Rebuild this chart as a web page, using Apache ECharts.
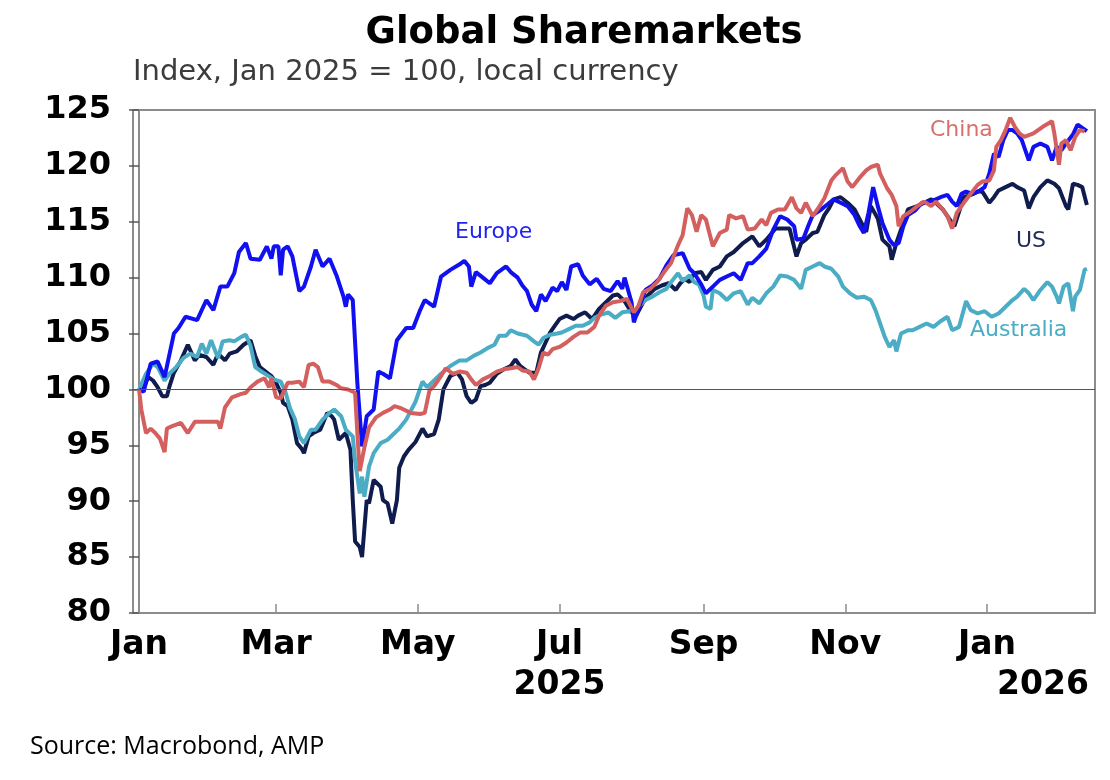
<!DOCTYPE html>
<html>
<head>
<meta charset="utf-8">
<title>Global Sharemarkets</title>
<script src="https://cdn.jsdelivr.net/npm/echarts@6.0.0/dist/echarts.min.js"></script>
<style>
  html, body { margin: 0; padding: 0; background: #fff; }
  #main { width: 1110px; height: 780px; }
</style>
</head>
<body>
<div id="main"></div>
<script>
// day offsets from 1 Jan 2025, index value (Jan 2025 = 100)
var europe = [[0,100],[2,99.8],[5,102.3],[8,102.5],[11,101.1],[15,105],[17,105.5],[20,106.5],[25,106.2],[29,108],[32,107.1],[35,109.2],[38,109.2],[41,110.4],[43,112.3],[46,113.1],[48,111.7],[52,111.6],[55,112.8],[57,111.7],[58,112.8],[60,112.8],[61,110.2],[62,112.5],[64,112.8],[66,111.9],[69,108.8],[71,109.2],[74,111],[76,112.5],[79,111],[82,111.7],[85,110.2],[88,108.3],[89,107.4],[90,108.5],[92,108],[94,100.5],[96,94.9],[98,97.6],[101,98.2],[103,101.6],[105,101.4],[108,101],[111,104.4],[115,105.5],[118,105.5],[121,107.1],[123,108],[127,107.4],[130,110.1],[134,110.7],[138,111.2],[140,111.5],[142,111],[143,109.2],[145,110.5],[148,110],[151,109.5],[154,110.4],[158,111],[160,110.5],[163,110],[165,109.3],[167,108.8],[169,107.6],[171,107],[173,108.5],[175,107.9],[178,109.1],[180,108.8],[182,109.6],[184,108.9],[186,111],[189,111.2],[191,110.2],[194,109.4],[197,109.9],[200,109],[203,108.8],[206,109.7],[208,109],[209,110],[212,107.8],[213,106],[215,107.2],[218,108.9],[221,109.3],[224,109.9],[227,111.1],[230,112],[234,112.2],[237,110.8],[239,110.4],[242,109.4],[244,108.6],[247,109.2],[250,109.8],[253,110.1],[256,110.4],[259,109.8],[262,111.3],[264,111.3],[267,111.9],[270,112.6],[273,114.3],[276,115.5],[279,115.2],[282,114.6],[283,113.4],[286,113.5],[288,114.6],[290,115.6],[293,116],[296,116.5],[299,117],[302,116.7],[305,116.4],[308,115.6],[310,114.7],[312,114],[314,115.8],[316,118.1],[318,116.4],[320,114.9],[323,113.4],[325,112.9],[327,113.1],[329,114.6],[331,115.6],[334,116],[337,116.7],[340,116.8],[343,117],[345,117.2],[348,117.4],[350,116.8],[352,116.4],[354,117.5],[356,117.7],[359,117.5],[362,117.8],[364,118.1],[366,119.3],[368,121.1],[370,120.8],[372,122.3],[374,123.2],[376,123.2],[378,122.9],[380,122.3],[383,120.5],[385,121.7],[388,122],[391,121.7],[393,120.5],[395,121.7],[397,121.4],[399,122],[402,122.8],[404,123.7],[406,123.4],[408,123.1]];

var us = [[0,100],[2,100.2],[4,101.1],[6,100.8],[8,100.2],[10,99.4],[12,99.4],[13,100.2],[15,101.5],[18,102.6],[21,104],[24,102.6],[26,103.1],[29,102.9],[32,102.2],[34,103.2],[37,102.6],[39,103.2],[42,103.4],[45,104],[48,104.4],[50,103],[52,102],[55,101.5],[57,101.2],[59,100.6],[61,99.7],[62,98.8],[64,98.5],[66,97.3],[68,95.2],[70,94.7],[71,94.3],[73,95.8],[75,96.1],[78,96.4],[81,97.9],[83,97.6],[84,97.3],[86,95.5],[89,96.1],[91,94.6],[92,90.1],[93,86.4],[95,85.9],[96,85],[98,90.1],[99,89.8],[101,91.9],[104,91.3],[105,90.1],[107,89.8],[109,88],[111,90.1],[112,93],[114,94],[116,94.6],[119,95.3],[122,96.5],[124,95.8],[127,96],[129,97.3],[131,100],[134,101.2],[137,101.5],[139,100.9],[141,99.4],[143,98.8],[145,99.1],[147,100.3],[149,100.4],[151,100.6],[154,101.4],[157,101.8],[160,102.1],[162,102.7],[164,102.1],[166,101.8],[168,101.5],[171,101.5],[173,103.3],[175,104.2],[177,105.1],[179,105.7],[181,106.3],[184,106.6],[187,106.3],[189,106.6],[192,106.9],[195,106.3],[198,107.2],[201,107.8],[204,108.4],[206,108.5],[209,107.9],[212,106.9],[214,106.6],[217,107.8],[219,108.4],[222,109],[225,109.3],[228,109.5],[231,108.9],[233,109.5],[235,109.9],[237,109.6],[239,110.4],[242,110.5],[244,109.8],[247,110.7],[250,111],[253,111.9],[256,112.3],[260,113.1],[264,113.7],[267,112.8],[270,113.4],[274,114.4],[277,114.4],[280,114.4],[283,111.9],[285,113.1],[287,113.4],[290,114],[292,114.1],[295,115.6],[297,116.2],[299,117],[302,117.2],[305,116.7],[308,116.1],[310,115.3],[313,114.1],[315,116.4],[318,115.3],[320,113.4],[323,112.8],[324,111.6],[326,113.1],[329,114.9],[331,116.1],[335,116.4],[338,116.7],[341,117],[343,116.7],[346,116.1],[349,115.2],[351,114.6],[353,115.9],[355,117.2],[358,117.4],[361,117.7],[363,117.7],[366,116.7],[368,117.2],[370,117.8],[373,118.1],[376,118.4],[378,118.1],[381,117.8],[383,116.2],[385,117.2],[388,118.1],[391,118.7],[394,118.4],[396,118],[399,116.4],[400,116.1],[402,118.4],[404,118.3],[406,118.1],[408,116.5]];

var australia = [[0,100],[3,101.4],[6,102.3],[8,102],[11,100.8],[13,101.4],[16,102],[19,102.8],[22,103.2],[25,102.9],[27,104.1],[29,103.2],[31,104.4],[34,102.8],[36,104.3],[39,104.4],[41,104.3],[44,104.7],[46,104.9],[48,103.9],[50,102],[52,101.7],[55,101.3],[58,100.9],[61,100.7],[63,99.8],[65,98.3],[67,97.4],[69,95.8],[71,95.2],[74,96.4],[76,96.4],[79,97.3],[82,97.9],[84,98.2],[87,97.6],[89,96.4],[92,95.8],[93,93.6],[95,90.7],[96,92.2],[97,90.4],[99,93.1],[101,94.3],[104,95.2],[107,95.5],[110,96.1],[112,96.5],[115,97.3],[119,98.9],[122,100.7],[124,100.2],[127,100.8],[130,101.4],[134,102.1],[138,102.6],[141,102.6],[144,103],[147,103.3],[150,103.7],[153,104],[155,104.8],[158,104.8],[160,105.3],[163,105],[167,104.8],[170,104.3],[172,104],[174,104.6],[177,104.9],[180,105],[182,105.1],[185,105.4],[188,105.7],[191,105.7],[194,106],[196,106.4],[199,106.7],[202,106.9],[205,106.4],[208,106.9],[211,107],[213,106.9],[216,107.6],[218,108],[221,108.3],[224,108.7],[227,109],[229,109.6],[232,110.4],[234,109.7],[237,110.2],[239,109.6],[241,109.4],[243,108.4],[244,107.4],[246,107.2],[247,108.9],[250,108.6],[253,108],[256,108.6],[259,108.8],[262,107.6],[264,108.2],[267,107.7],[270,108.6],[273,109.2],[276,110.2],[279,110.1],[282,109.8],[285,109],[287,110.7],[290,111],[293,111.3],[295,111],[298,110.8],[301,110.1],[303,109.2],[306,108.6],[309,108.2],[312,108.3],[315,108],[317,107.1],[319,105.9],[321,104.7],[323,103.8],[325,104.4],[326,103.4],[328,105],[331,105.3],[333,105.3],[336,105.6],[339,105.9],[342,105.6],[345,106.1],[348,106.5],[350,105.3],[353,105.6],[356,107.9],[358,107.1],[361,106.8],[364,107],[367,106.5],[370,106.8],[373,107.4],[376,108],[378,108.3],[381,109],[383,108.6],[385,108],[388,108.9],[391,109.6],[393,109.2],[395,108.3],[396,107.7],[398,109.2],[400,109.5],[402,107],[403,108.3],[405,108.9],[407,110.7],[408,110.8]];

var china = [[0,100],[1,98.2],[3,96.1],[5,96.5],[7,96.1],[9,95.6],[11,94.4],[12,96.5],[14,96.7],[18,97],[21,96.1],[24,97.1],[26,97.1],[31,97.1],[34,97.1],[35,96.5],[37,98.4],[40,99.3],[44,99.6],[46,99.7],[48,100.2],[51,100.7],[54,101],[56,100.2],[57,101],[59,99.3],[61,99.2],[64,100.6],[66,100.6],[69,100.7],[71,100.2],[73,102.2],[75,102.3],[77,102],[79,100.7],[82,100.7],[85,100.4],[87,100.1],[90,100],[93,99.7],[94,96],[95,92.7],[97,94.8],[99,96.6],[102,97.5],[105,97.9],[108,98.2],[110,98.5],[113,98.3],[117,97.9],[121,97.8],[123,97.9],[125,99.9],[127,100.3],[130,101.2],[132,101.9],[135,101.4],[138,101.6],[141,101.5],[143,100.9],[145,100.4],[148,100.9],[151,101.2],[154,101.6],[157,101.8],[160,101.9],[163,102],[165,101.7],[168,101.6],[170,100.9],[172,101.9],[174,103.3],[176,103.1],[178,103.6],[181,103.8],[184,104.2],[187,104.7],[190,105.1],[193,105.1],[196,105.6],[198,106.6],[201,107.5],[204,107.8],[207,107.9],[210,108.1],[213,106.9],[215,107.5],[217,108.7],[220,109],[223,109.6],[226,110.5],[229,111.3],[232,112.9],[234,113.8],[236,116.2],[238,115.6],[240,114.1],[242,115.6],[244,115.2],[247,112.8],[250,114],[253,114.3],[254,115.6],[257,115.3],[260,115.5],[262,114.3],[265,114.4],[268,115.2],[270,114.7],[272,115.8],[275,116.1],[278,116.1],[281,117.2],[283,116.2],[285,115.8],[287,116.7],[290,115.5],[292,116.1],[295,117.1],[298,118.7],[300,119.2],[303,119.8],[305,118.6],[307,118.1],[310,118.9],[313,119.6],[315,119.9],[318,120.1],[319,119.3],[322,118],[324,117.4],[326,116.4],[327,114.6],[329,115.5],[332,115.9],[335,116.4],[338,116.8],[341,116.4],[343,116.8],[346,116.1],[348,115.5],[350,114.4],[352,115.8],[355,116.7],[358,117.5],[361,118.3],[363,118.6],[366,118.7],[368,119.6],[369,121.7],[371,122.3],[373,123.2],[375,124.3],[377,123.5],[379,122.9],[381,122.6],[385,122.9],[389,123.5],[393,124],[394,122.9],[396,120.1],[397,122],[399,122.3],[401,121.4],[403,122.6],[405,123.2],[407,123.1]];

// x axis ticks
var tickDates = ['2025-01-01', '2025-03-01', '2025-05-01', '2025-07-01', '2025-09-01', '2025-11-01', '2026-01-01'];
var monthLabels = ['Jan', 'Mar', 'May', 'Jul', 'Sep', 'Nov', 'Jan'];
var yearLabels = ['', '', '', '2025', '', '', '2026'];

var DAY = 86400000;
var base = Date.UTC(2025, 0, 1);
// tick positions as day offsets from 1 Jan 2025
var tickDays = tickDates.map(function (s) {
    return Math.round((new Date(s + 'T00:00:00Z').getTime() - base) / DAY);
});

var axisGray = '#8c8c8c';
var boldFont = 'DejaVu Sans';

var myChart = echarts.init(document.getElementById('main'), null, { renderer: 'canvas' });

var option = {
    animation: false,
    backgroundColor: '#fff',
    grid: {
        left: 133,
        right: 15,
        top: 110,
        bottom: 167,
        show: true,
        borderColor: axisGray,
        borderWidth: 2
    },
    xAxis: {
        type: 'value',
        min: -2.6,
        max: 411.5,
        splitLine: { show: false },
        axisLine: { show: true, lineStyle: { color: axisGray, width: 2 } },
        axisTick: {
            show: true,
            inside: true,
            length: 9,
            customValues: tickDays,
            lineStyle: { color: axisGray, width: 1.5 }
        },
        axisLabel: {
            customValues: tickDays,
            margin: 12,
            hideOverlap: false,
            showMinLabel: true,
            showMaxLabel: true,
            formatter: function (val) {
                var i = tickDays.indexOf(Math.round(val));
                if (i < 0) { return ''; }
                var s = '{m|' + monthLabels[i] + '}';
                if (yearLabels[i]) {
                    s += '\n{' + (i === tickDays.length - 1 ? 'yr' : 'y') + '|' + yearLabels[i] + '}';
                }
                return s;
            },
            rich: {
                m: { fontFamily: boldFont, fontWeight: 'bold', fontSize: 33, color: '#000', lineHeight: 40 },
                y: { fontFamily: boldFont, fontWeight: 'bold', fontSize: 33, color: '#000', lineHeight: 40 },
                yr: { fontFamily: boldFont, fontWeight: 'bold', fontSize: 33, color: '#000', lineHeight: 40, padding: [0, 0, 0, 112] }
            }
        }
    },
    yAxis: {
        type: 'value',
        min: 80,
        max: 125,
        interval: 5,
        splitLine: { show: false },
        axisLine: { show: true, lineStyle: { color: axisGray, width: 2 } },
        axisTick: { show: true, length: 10, lineStyle: { color: '#555', width: 1.5 } },
        axisLabel: {
            margin: 22,
            fontFamily: boldFont,
            fontWeight: 'bold',
            fontSize: 32,
            color: '#000'
        }
    },
    graphic: [
        {
            type: 'text', x: 584, y: 33,
            style: { text: 'Global Sharemarkets', fill: '#000', font: 'bold 37px "DejaVu Sans"', align: 'center', verticalAlign: 'middle' }
        },
        {
            type: 'text', x: 133, y: 72,
            style: { text: 'Index, Jan 2025 = 100, local currency', fill: '#3c3c3c', font: '29px "DejaVu Sans"', align: 'left', verticalAlign: 'middle' }
        },
        {
            type: 'text', x: 455, y: 232,
            style: { text: 'Europe', fill: '#2222EE', font: '22px "DejaVu Sans"', align: 'left', verticalAlign: 'middle' }
        },
        {
            type: 'text', x: 930, y: 130,
            style: { text: 'China', fill: '#D9706C', font: '22px "DejaVu Sans"', align: 'left', verticalAlign: 'middle' }
        },
        {
            type: 'text', x: 1016, y: 241,
            style: { text: 'US', fill: '#1F2A55', font: '22px "DejaVu Sans"', align: 'left', verticalAlign: 'middle' }
        },
        {
            type: 'text', x: 970, y: 330,
            style: { text: 'Australia', fill: '#4BACC6', font: '22px "DejaVu Sans"', align: 'left', verticalAlign: 'middle' }
        },
        {
            type: 'text', x: 30, y: 747,
            style: { text: 'Source: Macrobond, AMP', fill: '#000', font: '25px "Open Sans"', align: 'left', verticalAlign: 'middle' }
        }
    ],
    series: [
        {
            name: 'US',
            type: 'line',
            showSymbol: false,
            data: us,
            lineStyle: { color: '#0F1C4D', width: 4 },
            itemStyle: { color: '#0F1C4D' },
            markLine: {
                silent: true,
                symbol: 'none',
                label: { show: false },
                lineStyle: { color: '#555', width: 1, type: 'solid' },
                data: [{ yAxis: 100 }]
            }
        },
        {
            name: 'Australia',
            type: 'line',
            showSymbol: false,
            data: australia,
            lineStyle: { color: '#4BACC6', width: 4 },
            itemStyle: { color: '#4BACC6' }
        },
        {
            name: 'Europe',
            type: 'line',
            showSymbol: false,
            data: europe,
            lineStyle: { color: '#1010F0', width: 4 },
            itemStyle: { color: '#1010F0' }
        },
        {
            name: 'China',
            type: 'line',
            showSymbol: false,
            data: china,
            lineStyle: { color: '#D3605E', width: 4 },
            itemStyle: { color: '#D3605E' }
        }
    ]
};

myChart.setOption(option);
</script>
</body>
</html>
